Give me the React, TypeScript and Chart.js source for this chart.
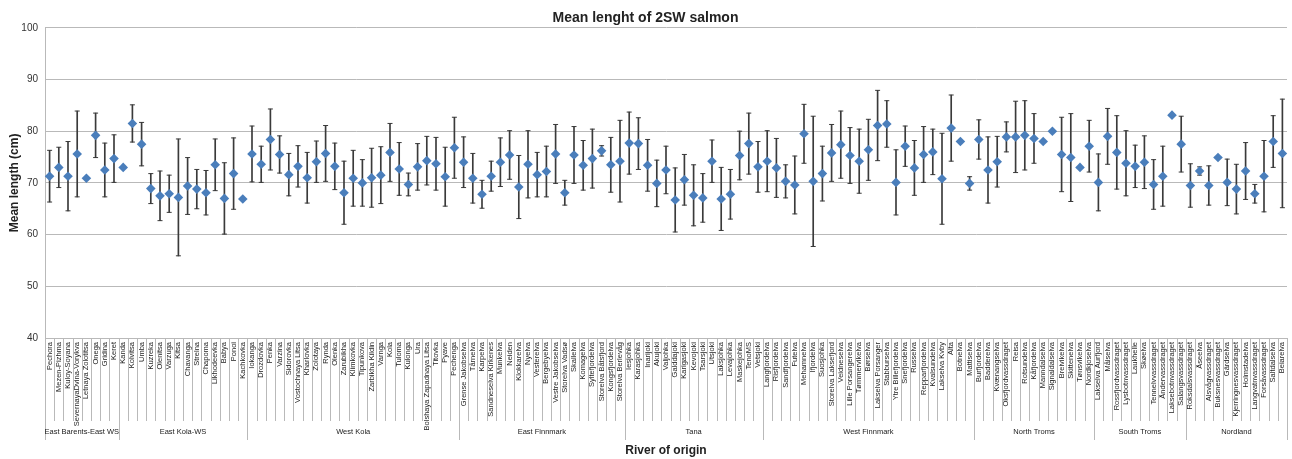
import React, { useEffect, useRef } from 'react';
import { Chart, registerables } from 'chart.js';

Chart.register(...registerables);

const rivers: string[] = [
  'Pechora', 'Mezen-Pizhma', 'Kuloy-Soyana', 'SevernayaDvina-Vorykva', 'Letnaya Zolotitsa', 'Onega', 'Gridina', 'Keret',
  'Kanda', 'Kolvitsa', 'Umba', 'Kuzreka', 'Olenitsa', 'Varzuga', 'Kitsa', 'Chavanga', 'Strelna', 'Chapoma', 'Likhodeevka', 'Babya', 'Ponoi', 'Kachkovka',
  'Iokanga', 'Drozdovka', 'Penka', 'Varzina', 'Sidorovka', 'Vostochnaya Litsa', 'Kharlovka', 'Zolotaya', 'Rynda', 'Olenka', 'Zarubikha', 'Klimkovka',
  'Tipunkova', 'Zarbikha Kildin', 'Varnga', 'Kola', 'Tuloma', 'Kulonga', 'Ura', 'Bolshaya Zapadnaya Litsa', 'Titovka', 'Pyave', 'Pechenga',
  'Grense Jakobselva', 'Tårnelva', 'Karpelva', 'Sandneselva Kirkenes', 'Munkelva', 'Neiden', 'Klokkarelva', 'Nyelva', 'Vesterelva', 'Bergebyelva',
  'Vestre Jakobselva', 'Storelva Vadsø', 'Skallelva', 'Komagelva', 'Syltefjordelva', 'Storelva Båtsfjord', 'Kongsfjordelva', 'Storelva Berlevåg',
  'Iesjohka', 'Karasjohka', 'Inarijoki', 'Akujoki', 'Valjohka', 'Galddajoki', 'Karigasjoki', 'Kevojoki', 'Tsarsjoki', 'Utsjoki', 'Laksjohka',
  'Levajohka', 'Maskejohka', 'TenoMS', 'Vetsjoki',
  'Langfjordelva', 'Risfjordelva', 'Sandfjordelva', 'Futelva', 'Mehamnelva', 'Ifjordelva', 'Suosjohka', 'Storelva Laksefjord', 'Veidneselva',
  'Lille Porsangerelva', 'Tømmervikelva', 'Børselva', 'Lakselva Porsanger', 'Stabburselva', 'Ytre Billefjordelva', 'Snefjordelva', 'Russelva',
  'Repparfjordelva', 'Kvalsundelva', 'Lakselva Kvby', 'Alta', 'Botnelva', 'Mattiselva',
  'Burfjordelva', 'Badderelva', 'Kvænangselva', 'Oksfjordvassdraget', 'Reisa', 'Rotsundelva', 'Kåfjordelva', 'Manndalselva', 'Signaldalselva',
  'Breivikelva', 'Skittenelva', 'Tønsvikelva', 'Nordkjoselva',
  'Lakselva Aurfjord', 'Målselva', 'Rossfjordvassdraget', 'Lysbotnvassdraget', 'Laukhelle', 'Skøelva', 'Tennelvvassdraget', 'Åndervassdraget',
  'Laksebotnvassdraget', 'Salangsvassdraget',
  'Roksdalsvassdraget', 'Åseelva', 'Alsvågvassdraget', 'Buksnesvassdraget', 'Gårdselva', 'Kjerringnesvassdraget', 'Holmstadelva',
  'Langvatnvassdraget', 'Forsåvassdraget', 'Saltdalselva', 'Beiarelva',
];

const meanLength: number[] = [
  71.3, 73.0, 71.3, 75.6, 70.9, 79.2, 72.5, 74.7,
  73.0, 81.5, 77.5, 68.9, 67.5, 67.9, 67.2, 69.4, 68.8, 68.1, 73.5, 67.0, 71.8, 66.9,
  75.6, 73.6, 78.4, 75.5, 71.6, 73.2, 71.0, 74.1, 75.7, 73.2, 68.1, 70.9,
  70.0, 71.0, 71.5, 75.9, 72.7, 69.7, 73.1, 74.3, 73.7, 71.2, 76.8,
  74.0, 70.9, 67.8, 71.3, 74.0, 75.4, 69.2, 73.6, 71.6, 72.2,
  75.6, 68.1, 75.4, 73.4, 74.7, 76.2, 73.5, 74.2,
  77.7, 77.6, 73.4, 69.9, 72.5, 66.7, 70.6, 67.6, 67.1, 74.2, 66.9,
  67.8, 75.3, 77.6, 73.1,
  74.2, 72.9, 70.3, 69.6, 79.5, 70.3, 71.8, 75.8, 77.4,
  75.3, 74.2, 76.4, 81.1, 81.4, 70.1, 77.1, 72.9,
  75.5, 76.0, 70.8, 80.6, 78.0, 69.9,
  78.4, 72.5, 74.1, 78.9, 78.9, 79.2, 78.6, 78.0, 80.0,
  75.5, 74.9, 73.0, 77.1,
  70.1, 79.0, 75.9, 73.8, 73.2, 74.0, 69.7, 71.3,
  83.1, 77.5,
  69.5, 72.3, 69.5, 74.9, 70.1, 68.8, 72.3,
  67.9, 71.3, 78.0, 75.7,
];

// half-width of the error bar (null = no error bar)
const errorMargin: (number | null)[] = [
  5.0, 3.9, 6.7, 8.3, null, 4.3, 5.2, 4.6,
  null, 3.6, 4.2, 2.9, 4.8, 3.6, 11.3, 5.5, 3.8, 4.3, 5.0, 6.9, 6.9, null,
  5.4, 3.5, 5.9, 3.6, 4.1, 4.0, 4.9, 4.0, 5.4, 4.5, 6.1, 5.4,
  4.5, 5.7, 5.5, 5.6, 5.1, 2.2, 4.5, 4.7, 5.1, 5.7, 5.9,
  4.9, 4.8, 2.7, 2.9, 4.7, 4.7, 6.1, 6.5, 4.3, 4.9,
  5.7, 2.4, 5.5, 4.8, 5.7, 1.0, 5.3, 7.9,
  6.0, 5.0, 5.0, 4.5, 4.6, 6.2, 4.9, 5.9, 4.7, 4.1, 6.1,
  4.8, 4.7, 5.9, 4.9,
  5.9, 5.7, 3.2, 5.6, 5.7, 12.6, 5.3, 5.5, 6.5,
  5.4, 6.2, 5.9, 6.8, 4.5, 6.3, 3.9, 5.3,
  5.4, 4.4, 8.8, 6.4, null, 1.3,
  3.8, 6.4, 4.9, 2.9, 6.9, 6.7, 4.8, null, null,
  7.2, 8.5, null, 5.0,
  5.5, 5.4, 7.1, 6.3, 4.1, 5.1, 4.8, 5.8,
  null, 5.4,
  4.2, 0.8, 3.8, null, 4.5, 4.8, 5.5,
  1.8, 6.9, 5.0, 10.5,
];

const groupNames: string[] = [
  'East Barents-East WS', 'East Kola-WS', 'West Kola', 'East Finnmark', 'Tana',
  'West Finnmark', 'North Troms', 'South Troms', 'Nordland',
];
const groupSizes: number[] = [8, 14, 23, 18, 15, 23, 13, 10, 11];

const yTicks: number[] = [40, 50, 60, 70, 80, 90, 100];

const FONT = "'Liberation Sans Narrow', 'Liberation Sans', Arial, sans-serif";
const BOLD_FONT = "'Liberation Sans', Arial, sans-serif";
const LINE_GRAY = '#b9b9b9';

const categoryFramePlugin = {
  id: 'categoryFrame',
  afterDraw(chart: any) {
    const { ctx, chartArea } = chart;
    const x = chart.scales.x;
    const n = rivers.length;
    const half = (x.getPixelForValue(1) - x.getPixelForValue(0)) / 2;
    const top = chartArea.bottom;
    const labelBottom = top + 83;
    const groupBottom = top + 102;
    ctx.save();
    ctx.strokeStyle = LINE_GRAY;
    ctx.lineWidth = 1;
    ctx.beginPath();
    for (let i = 0; i <= n; i++) {
      const px = i < n ? x.getPixelForValue(i) - half : x.getPixelForValue(n - 1) + half;
      const xx = Math.round(px) + 0.5;
      ctx.moveTo(xx, top);
      ctx.lineTo(xx, labelBottom);
    }
    ctx.stroke();
    let start = 0;
    ctx.beginPath();
    const edges: number[] = [];
    for (let g = 0; g <= groupSizes.length; g++) {
      const idx = start;
      const px = idx < n ? x.getPixelForValue(idx) - half : x.getPixelForValue(n - 1) + half;
      edges.push(px);
      const xx = Math.round(px) + 0.5;
      ctx.moveTo(xx, top);
      ctx.lineTo(xx, groupBottom);
      if (g < groupSizes.length) start += groupSizes[g];
    }
    ctx.stroke();
    ctx.fillStyle = '#222';
    ctx.font = `7.5px ${FONT}`;
    ctx.textAlign = 'center';
    ctx.textBaseline = 'middle';
    for (let g = 0; g < groupNames.length; g++) {
      ctx.fillText(groupNames[g], (edges[g] + edges[g + 1]) / 2, top + 94);
    }
    ctx.restore();
  },
};

export default function App() {
  const canvasRef = useRef<HTMLCanvasElement | null>(null);

  useEffect(() => {
    if (!canvasRef.current) return;
    const errorRanges = meanLength.map((m, i) => {
      const e = errorMargin[i];
      return e == null ? null : [m - e, m + e];
    });
    const upper = meanLength.map((m, i) => (errorMargin[i] == null ? null : m + (errorMargin[i] as number)));
    const lower = meanLength.map((m, i) => (errorMargin[i] == null ? null : m - (errorMargin[i] as number)));

    const chart = new Chart(canvasRef.current, {
      type: 'bar',
      data: {
        labels: rivers,
        datasets: [
          {
            type: 'line' as const,
            label: 'Mean length',
            data: meanLength,
            showLine: false,
            pointStyle: 'rectRot',
            pointRadius: 4.8,
            pointBackgroundColor: '#4a7ebb',
            pointBorderColor: '#4a7ebb',
            pointBorderWidth: 0,
            order: 0,
          },
          {
            type: 'bar' as const,
            label: 'Error',
            data: errorRanges as any,
            backgroundColor: '#3a3a3a',
            barThickness: 1,
            borderWidth: 0,
            order: 3,
            grouped: false,
          },
          {
            type: 'line' as const,
            label: 'Upper',
            data: upper,
            showLine: false,
            pointStyle: 'line',
            pointRadius: 2.5,
            pointBorderColor: '#3a3a3a',
            pointBorderWidth: 1,
            order: 2,
          },
          {
            type: 'line' as const,
            label: 'Lower',
            data: lower,
            showLine: false,
            pointStyle: 'line',
            pointRadius: 2.5,
            pointBorderColor: '#3a3a3a',
            pointBorderWidth: 1,
            order: 2,
          },
        ],
      },
      options: {
        responsive: false,
        animation: false,
        layout: { padding: { left: 0, right: 1, top: 0, bottom: 0 } },
        plugins: {
          legend: { display: false },
          tooltip: { enabled: false },
          title: {
            display: true,
            text: 'Mean lenght of 2SW salmon',
            color: '#222',
            font: { family: BOLD_FONT, size: 14, weight: 'bold' },
            padding: { top: 10, bottom: 1 },
          },
        },
        scales: {
          x: {
            type: 'category',
            offset: true,
            grid: { display: false, drawTicks: false },
            border: { display: false },
            ticks: {
              autoSkip: false,
              minRotation: 90,
              maxRotation: 90,
              padding: 4,
              color: '#222',
              font: { family: FONT, size: 7.5 },
            },
            title: {
              display: true,
              text: 'River of origin',
              color: '#222',
              font: { family: BOLD_FONT, size: 12, weight: 'bold' },
              padding: { top: 0, bottom: 1 },
            },
            afterFit: (scale: any) => {
              scale.height = 121;
              scale.paddingLeft = 0;
              scale.paddingRight = 0;
            },
          },
          y: {
            min: 40,
            max: 100,
            afterBuildTicks: (scale: any) => {
              scale.ticks = yTicks.map((v) => ({ value: v }));
            },
            grid: { color: LINE_GRAY, drawTicks: false },
            border: { display: true, color: LINE_GRAY },
            ticks: {
              padding: 7,
              color: '#333',
              font: { family: FONT, size: 10 },
            },
            title: {
              display: true,
              text: 'Mean length (cm)',
              color: '#222',
              font: { family: BOLD_FONT, size: 12, weight: 'bold' },
              padding: { top: 7, bottom: 0 },
            },
            afterFit: (scale: any) => {
              scale.width = 45;
            },
          },
        },
      },
      plugins: [categoryFramePlugin],
    });
    return () => chart.destroy();
  }, []);

  return (
    <div style={{ position: 'fixed', left: 0, top: 0, width: 1292, height: 459, background: '#fff' }}>
      <canvas ref={canvasRef} width={1292} height={459} style={{ width: 1292, height: 459, display: 'block' }} />
    </div>
  );
}
